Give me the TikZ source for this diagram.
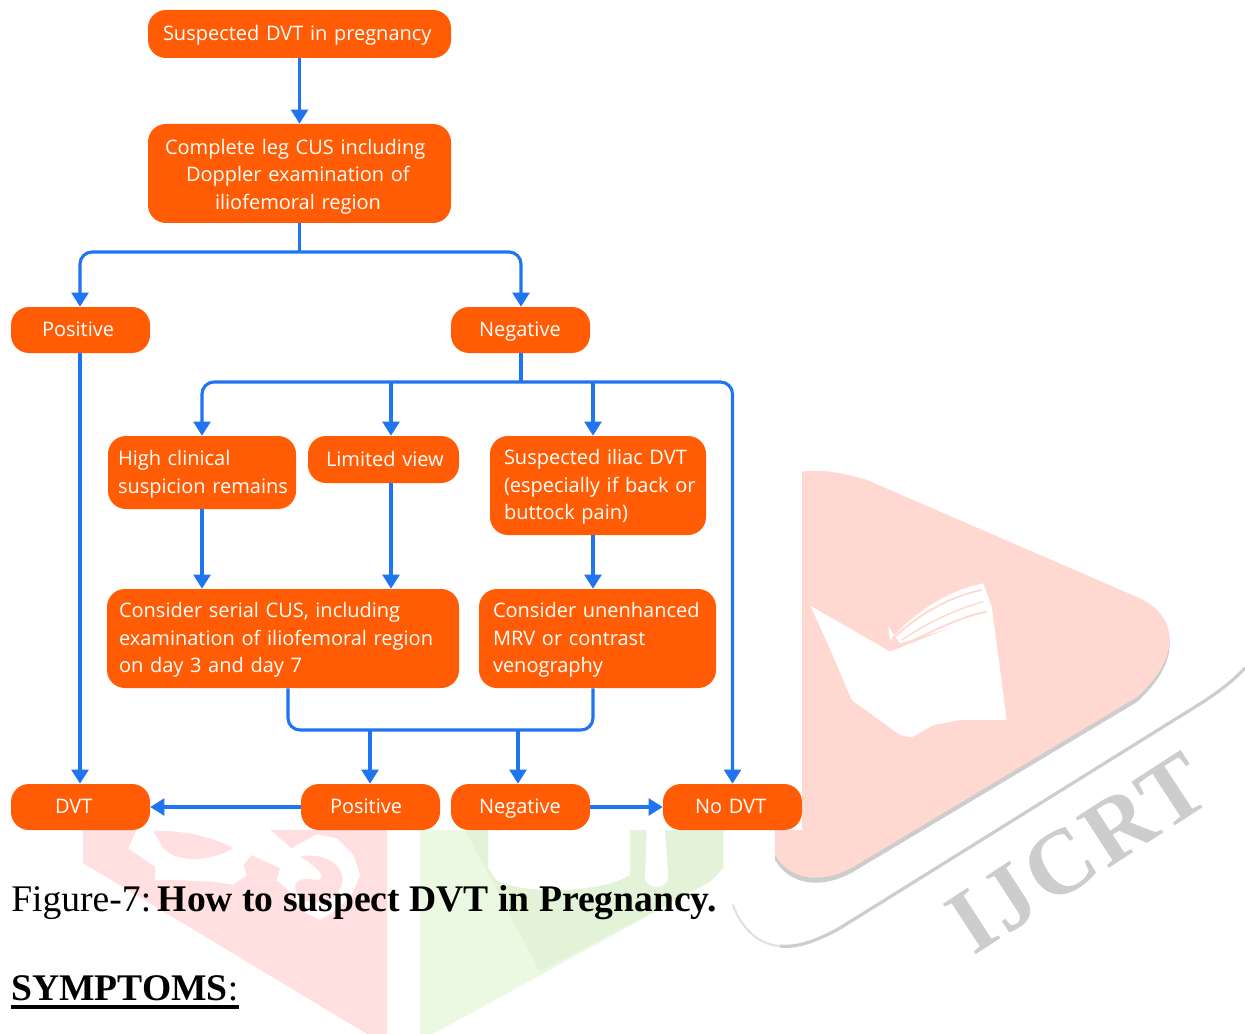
\documentclass[tikz,border=0pt]{standalone}
\usepackage{fontspec}
\setmainfont{Liberation Serif}
\newfontfamily\boxfont{Open Sans}
\newfontfamily\markfont[LetterSpace=4]{Liberation Serif Bold}
\usetikzlibrary{arrows.meta,calc}
\definecolor{boxor}{HTML}{FF5C05}
\definecolor{linkb}{HTML}{1F74F0}
\definecolor{wpink}{HTML}{FFDFDF}
\definecolor{wtri}{HTML}{FFD9D1}
\definecolor{wgl}{HTML}{ECF9E2}
\definecolor{wgd}{HTML}{E3F3D8}
\definecolor{wgrey}{HTML}{CDCDCD}
\newcommand{\hs}[1]{\hspace*{\dimexpr#1pt*3/4\relax}}
\tikzset{
  x=0.75pt,y=-0.75pt,
  fbox/.style n args={3}{draw=none,fill=boxor,rounded corners=13.5pt,inner sep=0pt,
    minimum width=#1*0.75pt,minimum height=#2*0.75pt,
    text width=(#1-2*#3)*0.75pt,align=left,text=white,
    font=\boxfont\fontsize{15}{20.6}\selectfont,
    execute at begin node={\rule{0pt}{16.4pt}},execute at end node=\strut},
  fboxlow/.style={execute at begin node={\rule{0pt}{18.9pt}}},
  link/.style={draw=linkb,line width=2.3pt,rounded corners=9pt},
  arr/.style={link,-{Triangle[length=10.5pt,width=12.5pt]}},
  caption/.style={anchor=base west,inner sep=0pt,text=black,font=\fontsize{28.2}{30}\selectfont}
}
\begin{document}
\begin{tikzpicture}
\useasboundingbox (0,0) rectangle (1245,1034);
\fill[white] (0,0) rectangle (1245,1034);
% watermark: lower left pink and green shapes
\fill[wpink] (83,830) -- (387,830) -- (387,1034) -- (367,1034) -- (83,863) -- cycle;
\begin{scope}[shift={(70,825)},x=0.25pt,y=-0.25pt]
\fill[white] (200,15) -- (175,70) -- (255,125) -- (255,165) -- (320,165) -- (420,170) -- (490,178) -- (530,150) -- (520,120) -- (545,90) -- (630,130) -- (620,165) -- (660,200) -- (700,260) -- (750,285) -- (800,255) -- (850,200) -- (870,150) -- (850,90) -- (800,40) -- (740,28) -- (665,70) -- (600,15) -- cycle;
\fill[wpink] (250,18) .. controls (320,15) and (420,30) .. (490,70) .. controls (430,105) and (330,120) .. (280,70) -- cycle;
\fill[wpink] (690,95) .. controls (760,80) and (830,120) .. (815,180) .. controls (805,220) and (760,245) .. (700,225) .. controls (660,190) and (665,150) .. (740,165) .. controls (770,165) and (760,135) .. cycle;
\end{scope}
\fill[wgl] (420,830) -- (723,830) -- (723,868) -- (710,882) -- (433,1034) -- (420,1034) -- cycle;
\begin{scope}[shift={(400,825)},x=0.25pt,y=-0.25pt]
\fill[wgd] (195,15) -- (420,440) -- (930,170) -- (970,130) -- (970,15) -- cycle;
\fill[white] (265,15) -- (265,130) -- (290,165) .. controls (340,190) and (400,195) .. (480,195) .. controls (560,195) and (650,175) .. (690,150) -- (690,15) -- cycle;
\fill[white] (740,15) -- (735,160) .. controls (745,195) and (795,195) .. (805,160) -- (795,15) -- cycle;
\end{scope}
% watermark: play triangle with book
\path[fill=wgrey] (775,505) .. controls (775,480) and (800,465) .. (867,485) -- (1137,602) .. controls (1178,620) and (1183,660) .. (1137,702) -- (853,872) .. controls (820,890) and (790,885) .. (775,860) -- cycle;
\path[fill=wtri] (775,500) .. controls (775,475) and (800,460) .. (867,480) -- (1137,597) .. controls (1178,615) and (1183,655) .. (1137,697) -- (853,867) .. controls (820,885) and (790,880) .. (775,855) -- cycle;
\begin{scope}[shift={(720,450)},x=0.25pt,y=-0.25pt]
\fill[white] (272,468) -- (380,530) -- (510,605) -- (800,490) -- (815,470) -- (860,810) -- (720,810) -- (640,825) -- (575,862) -- (540,855) -- (395,750) -- (340,620) -- cycle;
\fill[white] (505,530) -- (510,570) .. controls (590,480) and (690,420) .. (790,400) -- (815,470) -- (800,500) -- (540,580) -- cycle;
\draw[wtri,line width=1.4pt] (525,560) .. controls (600,490) and (690,440) .. (785,420);
\draw[wtri,line width=1.1pt] (545,570) .. controls (620,520) and (700,480) .. (790,455);
\draw[wtri,line width=1.4pt] (580,570) .. controls (650,540) and (720,500) .. (800,485);
\end{scope}
\draw[wgrey,line width=2.4pt,line cap=round] (1245,668) .. controls (1232,682) and (1218,692) .. (1203,702) -- (840,928) .. controls (815,942) and (795,948) .. (780,946);
\draw[wgrey!60,line width=1.6pt,line cap=round] (780,946) .. controls (760,945) and (742,930) .. (733,905);
\node[rotate=33,text=wgrey,inner sep=0pt,font=\markfont\fontsize{69}{72}\selectfont] (ijcrt) at (1078,853) {IJCRT};
% white ground of the flowchart image
\fill[white] (0,0) rectangle (802,830);
% boxes
\node[fbox={303}{48}{15}] (start) at (299.5,34) {\mbox{Suspected DVT in pregnancy}};
\node[fbox={303}{99}{17},fboxlow] (cus) at (299.5,173.5) {\mbox{Complete leg CUS including}\\\mbox{\hs{21}Doppler examination of}\\\mbox{\hs{50}iliofemoral region}};
\node[fbox={139}{46}{31}] (pos) at (80.5,330) {\mbox{Positive}};
\node[fbox={139}{46}{28}] (neg) at (520.5,330) {\mbox{Negative}};
\node[fbox={188}{73}{10}] (high) at (202,472.5) {\mbox{High clinical}\\\mbox{suspicion remains}};
\node[fbox={151}{47}{18}] (lim) at (383.5,459.5) {\mbox{Limited view}};
\node[fbox={216}{99}{14}] (iliac) at (598,485.5) {\mbox{Suspected iliac DVT}\\\mbox{(especially if back or}\\\mbox{buttock pain)}};
\node[fbox={352}{99}{12}] (serial) at (283,638.5) {\mbox{Consider serial CUS, including}\\\mbox{examination of iliofemoral region}\\\mbox{on day 3 and day 7}};
\node[fbox={237}{99}{14}] (mrv) at (597.5,638.5) {\mbox{Consider unenhanced}\\\mbox{MRV or contrast}\\\mbox{venography}};
\node[fbox={139}{46}{44}] (dvt) at (80.5,807) {\mbox{DVT}};
\node[fbox={139}{46}{29}] (pos2) at (370.5,807) {\mbox{Positive}};
\node[fbox={139}{46}{28}] (neg2) at (520.5,807) {\mbox{Negative}};
\node[fbox={139}{46}{32}] (nodvt) at (732.5,807) {\mbox{No DVT}};
% branch levels and arrow columns
\coordinate (ja) at (299.5,252);
\coordinate (jb) at (521,382);
\coordinate (jc) at (440,730);
\coordinate (cLim) at (391,0);
\coordinate (cIl) at (593,0);
\coordinate (cSer) at (288,0);
\coordinate (cPos) at (370,0);
\coordinate (cNeg) at (518,0);
\coordinate (cNeg1) at (521,0);
\coordinate (cPs) at (80,0);
% connectors
\draw[arr] (start) -- (cus);
\draw[link] (cus.south) -- (ja);
\draw[arr] (ja) -| (pos.north -| cPs);
\draw[arr] (ja) -| (neg.north -| cNeg1);
\draw[arr] (pos.south -| cPs) -- (dvt.north -| cPs);
\draw[link] (neg.south -| cNeg1) -- (jb);
\draw[arr] (jb) -| (high.north);
\draw[arr] (jb) -| (nodvt.north);
\draw[arr] (jb -| cLim) -- (lim.north -| cLim);
\draw[arr] (jb -| cIl) -- (iliac.north -| cIl);
\draw[arr] (high.south) -- (serial.north -| high.south);
\draw[arr] (lim.south -| cLim) -- (serial.north -| cLim);
\draw[arr] (iliac.south -| cIl) -- (mrv.north -| cIl);
\draw[link] (serial.south -| cSer) |- (jc) -| (mrv.south -| cIl);
\draw[arr] (jc -| cPos) -- (pos2.north -| cPos);
\draw[arr] (jc -| cNeg) -- (neg2.north -| cNeg);
\draw[arr] (pos2) -- (dvt);
\draw[arr] (neg2) -- (nodvt);
% caption
\node[caption] (cap) at (11,911) {Figure-7:\kern 5pt\textbf{How to suspect DVT in Pregnancy.}};
\node[caption] (sym) at (11,1000) {\textbf{SYMPTOMS}:};
\draw[black,line width=2.4pt] ($(sym.base west)+(0,7)$) -- ($(sym.base east)+(0,7)$);
\end{tikzpicture}
\end{document}
